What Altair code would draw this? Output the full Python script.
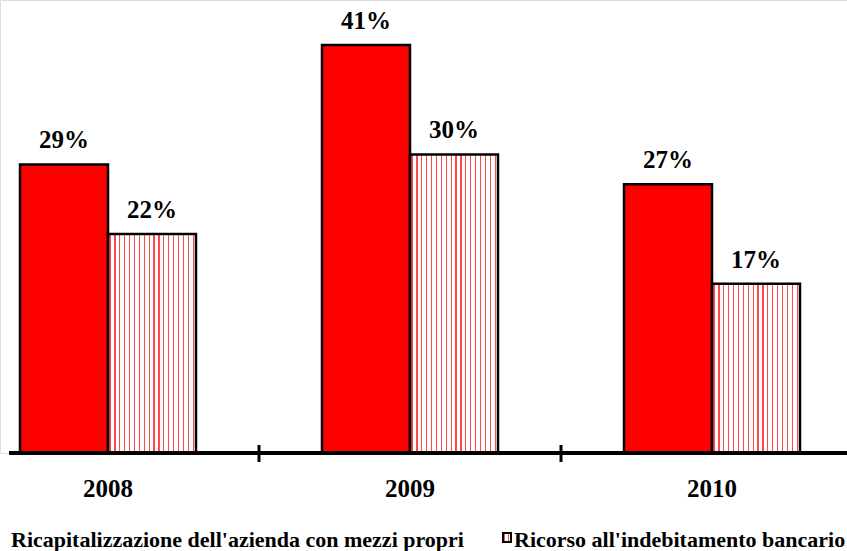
import altair as alt
import pandas as pd

years = ["2008", "2009", "2010"]
series = ["Ricapitalizzazione dell'azienda con mezzi propri",
          "Ricorso all'indebitamento bancario"]
values_equity = [29, 41, 27]
values_bank = [22, 30, 17]
labels_equity = ["29%", "41%", "27%"]
labels_bank = ["22%", "30%", "17%"]

rows = []
for i, y in enumerate(years):
    rows.append({"year": y, "series": series[0], "value": values_equity[i], "label": labels_equity[i]})
    rows.append({"year": y, "series": series[1], "value": values_bank[i], "label": labels_bank[i]})
df = pd.DataFrame(rows)

FONT = "Liberation Serif, Times New Roman, serif"
RED = "#ff0000"

# striped fill imitating the dotted red pattern
n_stripes = 18
stops = []
for k in range(n_stripes):
    a = k / n_stripes
    b = a + 0.3 / n_stripes
    c = a + 0.55 / n_stripes
    stops += [alt.GradientStop(color="#ffffff", offset=a),
              alt.GradientStop(color="#ffffff", offset=b),
              alt.GradientStop(color="#ff4a4a", offset=b),
              alt.GradientStop(color="#ff4a4a", offset=c),
              alt.GradientStop(color="#ffffff", offset=c)]
stops.append(alt.GradientStop(color="#ffffff", offset=1))
pattern = alt.Gradient(gradient="linear", stops=stops, x1=0, x2=1, y1=0, y2=0)

xscale = alt.Scale(domain=years, range=[-43, 863], paddingInner=0, paddingOuter=0)
xoff = alt.XOffset("series:N", scale=alt.Scale(domain=series, paddingInner=0, paddingOuter=0.716))
yscale = alt.Scale(domain=[0, 41 * 453 / 408], nice=False, zero=True)

base = alt.Chart(df).encode(
    x=alt.X("year:N", scale=xscale, sort=years,
            axis=alt.Axis(title=None, domain=False, ticks=False, labelAngle=0,
                          labelFont=FONT, labelFontWeight="bold", labelFontSize=25,
                          labelColor="#000000", labelPadding=23)),
    xOffset=xoff,
    y=alt.Y("value:Q", scale=yscale, axis=None),
)

bars_a = base.transform_filter(alt.datum.series == series[0]).mark_bar(
    fill=RED, stroke="#000000", strokeWidth=2.5)
bars_b = base.transform_filter(alt.datum.series == series[1]).mark_bar(
    fill=pattern, stroke="#000000", strokeWidth=2.5)

texts = base.mark_text(font=FONT, fontWeight="bold", fontSize=25, dy=-16,
                       baseline="alphabetic", color="#000000").encode(text="label:N")

axis_line = alt.Chart(df).mark_rule(color="#000000", strokeWidth=4).encode(
    x=alt.value(9), x2=alt.value(847), y=alt.value(453))

tick_df = pd.DataFrame({"year": years[1:]})
ticks = alt.Chart(tick_df).mark_rule(color="#000000", strokeWidth=3).encode(
    x=alt.X("year:N", scale=xscale, bandPosition=0),
    y=alt.value(445), y2=alt.value(462))

leg_df = pd.DataFrame({"name": series})
leg1 = alt.Chart(leg_df).transform_filter(alt.datum.name == series[0]).mark_text(
    font=FONT, fontWeight="bold", fontSize=22, align="left", baseline="alphabetic",
    color="#000000").encode(text="name:N", x=alt.value(11), y=alt.value(547))
leg2 = alt.Chart(leg_df).transform_filter(alt.datum.name == series[1]).mark_text(
    font=FONT, fontWeight="bold", fontSize=22, align="left", baseline="alphabetic",
    color="#000000").encode(text="name:N", x=alt.value(514), y=alt.value(547))
leg_sym = alt.Chart(leg_df).transform_filter(alt.datum.name == series[1]).mark_rect(
    fill=pattern, stroke="#000000", strokeWidth=2).encode(
    x=alt.value(503), x2=alt.value(511), y=alt.value(533), y2=alt.value(542))

chart = alt.layer(bars_a, bars_b, texts, axis_line, ticks, leg1, leg2, leg_sym).properties(
    width=847, height=453,
    autosize=alt.AutoSizeParams(type="none"),
    padding={"left": 0, "top": 0, "right": 0, "bottom": 98},
).configure_view(stroke=None).configure(background="#ffffff")

chart.save("out.html", embed_options={"renderer": "svg", "actions": False})
